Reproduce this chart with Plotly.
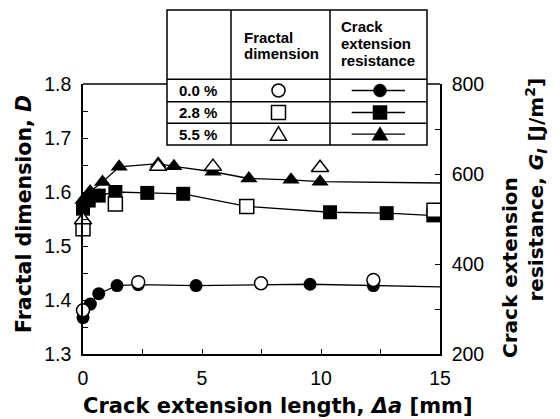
import plotly.graph_objects as go

# Fractal dimension D (open symbols, left axis)
dx_00 = [0.0, 2.32, 7.48, 12.2]
d_00 = [1.381, 1.433, 1.431, 1.437]
dx_28 = [0.0, 1.36, 6.88, 14.75]
d_28 = [1.532, 1.578, 1.573, 1.566]
dx_55 = [0.0, 3.16, 5.46, 9.96]
d_55 = [1.548, 1.647, 1.647, 1.645]

# Crack extension resistance G_I in J/m^2 (filled symbols, right axis)
gx_00 = [0.0, 0.31, 0.66, 1.43, 2.32, 4.75, 9.54, 12.2]
g_00 = [281, 311, 334, 352, 354, 352, 355, 352]
gx_28 = [0.0, 0.24, 0.66, 1.36, 2.70, 4.21, 6.88, 10.38, 12.76, 14.72]
g_28 = [523, 541, 552, 560, 558, 556, 528, 515, 513, 508]
gx_55 = [0.0, 0.30, 0.82, 1.52, 3.16, 3.82, 5.46, 6.97, 8.74, 9.96]
g_55 = [542, 561, 582, 616, 623, 617, 605, 590, 587, 583]

# resistance curves carried on to the end of the axis
x_end = 15.0
g_end = [349, 507, 580]

contents = ["0.0 %", "2.8 %", "5.5 %"]
x_ticks = [0, 5, 10, 15]
d_ticks = [1.3, 1.4, 1.5, 1.6, 1.7, 1.8]
g_ticks = [200, 400, 600, 800]

W, H = 560, 419
L, R, T, B = 83, 440, 84, 354


def px_x(p):
    return (p - L) / (R - L)


def px_y(p):
    return (B - p) / (B - T)


BOLD = "DejaVu Sans"
TICK = "Liberation Sans"
INK = "#000000"

fig = go.Figure()

series_g = [(gx_00, g_00, "circle"), (gx_28, g_28, "square"), (gx_55, g_55, "triangle-up")]
series_d = [(dx_00, d_00, "circle"), (dx_28, d_28, "square"), (dx_55, d_55, "triangle-up")]
sizes = {"circle": 13, "square": 14, "triangle-up": 15}

# resistance lines
for (gx, gy, sym), ge in zip(series_g, g_end):
    fig.add_trace(go.Scatter(x=gx + [x_end], y=gy + [ge], mode="lines",
                             line=dict(color=INK, width=1.3), yaxis="y",
                             showlegend=False, hoverinfo="skip"))
# resistance markers
for gx, gy, sym in series_g:
    fig.add_trace(go.Scatter(x=gx, y=gy, mode="markers", yaxis="y", cliponaxis=False,
                             marker=dict(symbol=sym, size=sizes[sym], color=INK,
                                         line=dict(width=0)),
                             showlegend=False))
# fractal dimension markers (open, drawn on top)
for dx, dy, sym in series_d:
    fig.add_trace(go.Scatter(x=dx, y=dy, mode="markers", yaxis="y2", cliponaxis=False,
                             marker=dict(symbol=sym, size=sizes[sym], color="white",
                                         line=dict(color=INK, width=1.5)),
                             showlegend=False))

tickfont = dict(family=TICK, size=19.5, color=INK)
common = dict(showline=True, linecolor=INK, linewidth=1.5, ticks="inside", ticklen=5,
              tickwidth=1.3, tickcolor=INK, showgrid=False, zeroline=False,
              tickfont=tickfont)

fig.update_layout(
    width=W, height=H,
    margin=dict(l=L, r=W - R, t=T, b=H - B),
    paper_bgcolor="white", plot_bgcolor="white",
    showlegend=False,
    xaxis=dict(range=[0, 15], tickvals=x_ticks, ticktext=[str(v) for v in x_ticks],
               minor=dict(dtick=2.5, ticks="inside", ticklen=5, tickwidth=1.3, tickcolor=INK),
               ticklabelstandoff=6, **common),
    yaxis=dict(range=[200, 800], side="right", tickvals=g_ticks,
               ticktext=[str(v) for v in g_ticks],
               minor=dict(dtick=100, ticks="inside", ticklen=5, tickwidth=1.3, tickcolor=INK),
               ticklabelstandoff=6, **common),
    yaxis2=dict(range=[1.3, 1.8], side="left", overlaying="y", tickvals=d_ticks,
                ticktext=["%.1f" % v for v in d_ticks],
                minor=dict(dtick=0.05, ticks="inside", ticklen=5, tickwidth=1.3, tickcolor=INK),
                ticklabelstandoff=6, **common),
)

shapes = []
# top frame edge either side of the key table
for a, b in [(L, 167), (427, R)]:
    shapes.append(dict(type="line", xref="paper", yref="paper", x0=px_x(a), x1=px_x(b),
                       y0=1, y1=1, line=dict(color=INK, width=1.5)))

# key table
tl, tr, tt, tb = 167, 427, 10, 145
cols = [231, 330]
rows = [79.3, 101.7, 123.3]
tline = dict(color=INK, width=1.5)
shapes.append(dict(type="rect", xref="paper", yref="paper", x0=px_x(tl), x1=px_x(tr),
                   y0=px_y(tt), y1=px_y(tb), line=tline, fillcolor="rgba(0,0,0,0)"))
for c in cols:
    shapes.append(dict(type="line", xref="paper", yref="paper", x0=px_x(c), x1=px_x(c),
                       y0=px_y(tt), y1=px_y(tb), line=tline))
for r in rows:
    shapes.append(dict(type="line", xref="paper", yref="paper", x0=px_x(tl), x1=px_x(tr),
                       y0=px_y(r), y1=px_y(r), line=tline))

row_c = [90.5, 112.5, 134.2]
sym_x, seg_a, seg_b, fill_x = 278.5, 351.7, 405, 380


def key_symbol(kind, cx, cy, filled):
    fill = INK if filled else "white"
    ln = dict(color=INK, width=1.5 if not filled else 0.5)
    base = dict(xref="paper", yref="paper", xsizemode="pixel", ysizemode="pixel",
                xanchor=px_x(cx), yanchor=px_y(cy), fillcolor=fill, line=ln)
    if kind == "circle":
        return dict(type="circle", x0=-6.5, x1=6.5, y0=-6.5, y1=6.5, **base)
    if kind == "square":
        return dict(type="rect", x0=-7, x1=7, y0=-7, y1=7, **base)
    return dict(type="path", path="M -8,-6 L 8,-6 L 0,7.5 Z", **base)


for kind, cy in zip(["circle", "square", "triangle"], row_c):
    shapes.append(key_symbol(kind, sym_x, cy, False))
    shapes.append(dict(type="line", xref="paper", yref="paper", x0=px_x(seg_a), x1=px_x(seg_b),
                       y0=px_y(cy), y1=px_y(cy), line=dict(color=INK, width=1.3)))
    shapes.append(key_symbol(kind, fill_x, cy, True))

fig.update_layout(shapes=shapes)

ann = []
tfont = dict(family=TICK, size=15, color=INK)
for txt, x, y in [("Fractal", 241.7, 37.5), ("dimension", 241.7, 53.8),
                  ("Crack", 339.3, 26.7), ("extension", 339.3, 43.2), ("resistance", 339.3, 60.8)]:
    ann.append(dict(text="<b>%s</b>" % txt, x=px_x(x), y=px_y(y), xref="paper", yref="paper",
                    xanchor="left", yanchor="middle", showarrow=False, font=tfont))
for txt, cy in zip(contents, row_c):
    ann.append(dict(text="<b>%s</b>" % txt, x=px_x(197.7), y=px_y(cy), xref="paper",
                    yref="paper", xanchor="center", yanchor="middle", showarrow=False,
                    font=tfont))

afont = dict(family=BOLD, size=21, color=INK)
ann.append(dict(text="<b>Crack extension length, <i>Δa</i> [mm]</b>", x=px_x(277.5),
                y=px_y(406), xref="paper", yref="paper", xanchor="center", yanchor="middle",
                showarrow=False, font=afont))
ann.append(dict(text="<b>Fractal dimension, <i>D</i></b>", x=px_x(24), y=px_y(214),
                xref="paper", yref="paper", xanchor="center", yanchor="middle",
                textangle=-90, showarrow=False, font=dict(family=BOLD, size=20.5, color=INK)))
ann.append(dict(text="<b>Crack extension</b>", x=px_x(509.5), y=px_y(267.5),
                xref="paper", yref="paper", xanchor="center", yanchor="middle",
                textangle=-90, showarrow=False, font=dict(family=BOLD, size=20, color=INK)))
ann.append(dict(text="<b>resistance, <i>G</i><sub><i>I</i></sub> [J/m<sup>2</sup>]</b>",
                x=px_x(535.5), y=px_y(190), xref="paper", yref="paper", xanchor="center",
                yanchor="middle", textangle=-90, showarrow=False,
                font=dict(family=BOLD, size=20, color=INK)))
fig.update_layout(annotations=ann)

fig.write_html("out.html")
